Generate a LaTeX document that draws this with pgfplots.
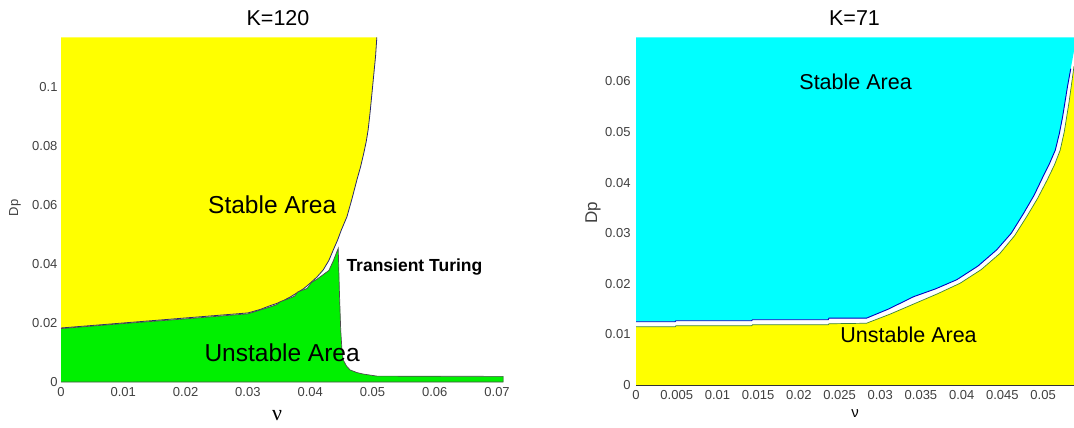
\documentclass[border=0pt]{standalone}
\usepackage{pgfplots}
\pgfplotsset{compat=1.18}
\usepackage{pgfplotstable}
\usepackage{fontspec}
\setmainfont{Liberation Sans}
\newfontfamily\seriffont{Liberation Serif}

\definecolor{stableY}{RGB}{255,255,0}
\definecolor{unstG}{RGB}{0,240,0}
\definecolor{stableC}{RGB}{0,255,255}
\definecolor{edgeNavy}{RGB}{40,40,110}
\definecolor{edgeBlue}{RGB}{0,0,190}
\definecolor{edgeGreen}{RGB}{60,130,60}

% K=120: stable region (first row is the top-left corner)
\pgfplotstableread{
v D
0 0.1168
0 0.0183
0.010 0.0200
0.020 0.0217
0.030 0.0234
0.0320 0.0246
0.0335 0.0258
0.0346 0.0266
0.0357 0.0276
0.0368 0.0288
0.0378 0.0301
0.0390 0.0317
0.0400 0.0335
0.0411 0.0356
0.0421 0.0380
0.0430 0.0412
0.0437 0.0447
0.0444 0.0481
0.0450 0.0515
0.0459 0.0560
0.0467 0.0620
0.0475 0.0685
0.0481 0.0730
0.0486 0.0775
0.0490 0.0815
0.0493 0.0854
0.0496 0.0910
0.0499 0.0975
0.0502 0.1040
0.0505 0.1105
0.0507 0.1168
}\leftstable

% K=120: unstable region (open outline, left edge omitted)
\pgfplotstableread{
v D
0 0.0181
0.010 0.0198
0.020 0.0214
0.030 0.0231
0.0335 0.0254
0.0346 0.0262
0.0352 0.0272
0.0365 0.0282
0.0375 0.0291
0.0380 0.0305
0.0395 0.0317
0.0402 0.0337
0.0412 0.0350
0.0421 0.0364
0.0430 0.0378
0.0437 0.0410
0.0445 0.0453
0.0447 0.0300
0.0449 0.0176
0.0451 0.0110
0.0453 0.0075
0.0458 0.0055
0.0464 0.0041
0.0475 0.0032
0.0485 0.0027
0.0507 0.0020
0.0710 0.0019
0.0710 0
0 0
}\leftunstable

% K=71: stable region (first row is the top-left corner, last the top-right)
\pgfplotstableread{
v D
0 0.0687
0 0.0125
0.0048 0.0125
0.0049 0.0127
0.0142 0.0127
0.0143 0.0129
0.0236 0.0129
0.0237 0.0132
0.0283 0.0132
0.0310 0.0150
0.0341 0.01745
0.0368 0.0190
0.0394 0.0208
0.0420 0.0235
0.0443 0.0267
0.0461 0.0300
0.0476 0.0339
0.0489 0.0375
0.0500 0.0412
0.0508 0.0438
0.0515 0.0464
0.0520 0.0497
0.0524 0.0530
0.0527 0.0560
0.0530 0.0590
0.0534 0.0625
0.0538 0.0660
0.0538 0.0687
}\rightstable

% K=71: unstable region
\pgfplotstableread{
v D
0 0
0 0.0115
0.0048 0.0115
0.0049 0.0117
0.0142 0.0117
0.0143 0.0119
0.0236 0.0119
0.0237 0.0121
0.0283 0.0122
0.0312 0.0140
0.0341 0.0160
0.0370 0.0180
0.0398 0.0201
0.0424 0.0228
0.0447 0.0260
0.0465 0.0295
0.0480 0.0333
0.0493 0.0368
0.0505 0.0405
0.0514 0.0435
0.0521 0.0464
0.0526 0.0500
0.0529 0.0530
0.0532 0.0560
0.0535 0.0595
0.0538 0.0630
0.0538 0
}\rightunstable

\begin{document}
\begin{tikzpicture}[x=1bp,y=1bp]
\useasboundingbox (0,0) rectangle (1074,427);

\pgfplotsset{
  regionaxis/.style={
    scale only axis,
    anchor=south west,
    axis line style={draw=none},
    major tick length=0pt,
    scaled ticks=false,
    tick label style={font=\fontsize{13bp}{13bp}\selectfont, text=black!75},
    xticklabel style={yshift=-2bp},
  }
}

% ---------- K=120 ----------
\begin{axis}[regionaxis,
  at={(61bp,45bp)}, width=442.3bp, height=344.7bp,
  xmin=0, xmax=0.071, ymin=0, ymax=0.1168,
  xtick={0,0.01,0.02,0.03,0.04,0.05,0.06,0.07},
  xticklabels={0,0.01,0.02,0.03,0.04,0.05,0.06,0.07},
  ytick={0,0.02,0.04,0.06,0.08,0.1},
  yticklabels={0,0.02,0.04,0.06,0.08,0.1},
]
\addplot[fill=stableY, draw=none] table {\leftstable} -- cycle;
\addplot[edgeNavy, line width=0.8bp, skip coords between index={0}{1}] table {\leftstable};
\addplot[fill=unstG, draw=black!70, line width=0.7bp] table {\leftunstable};
\node[font=\fontsize{24.5bp}{28bp}\selectfont, anchor=base] at (axis cs:0.0339,0.0570) {Stable Area};
\node[font=\fontsize{17.5bp}{20bp}\selectfont\bfseries, anchor=base west, inner sep=0pt] at (axis cs:0.0458,0.0375) {Transient Turing};
\node[font=\fontsize{24.5bp}{28bp}\selectfont, anchor=base] at (axis cs:0.0355,0.0069) {Unstable Area};
\end{axis}

% ---------- K=71 ----------
\begin{axis}[regionaxis,
  at={(636bp,42bp)}, width=438bp, height=347.7bp,
  xmin=0, xmax=0.0538, ymin=0, ymax=0.0687,
  xtick={0,0.005,0.01,0.015,0.02,0.025,0.03,0.035,0.04,0.045,0.05},
  xticklabels={0,0.005,0.01,0.015,0.02,0.025,0.03,0.035,0.04,0.045,0.05},
  ytick={0,0.01,0.02,0.03,0.04,0.05,0.06},
  yticklabels={0,0.01,0.02,0.03,0.04,0.05,0.06},
  yticklabel style={xshift=-2bp},
]
\addplot[fill=stableC, draw=none] table {\rightstable} -- cycle;
\addplot[fill=stableY, draw=none] table {\rightunstable} -- cycle;
\addplot[edgeBlue, line width=0.9bp, skip coords between index={0}{1}, skip coords between index={26}{28}] table {\rightstable};
\addplot[edgeGreen, line width=0.7bp, skip coords between index={0}{1}, skip coords between index={26}{28}] table {\rightunstable};
\draw[black!80, line width=0.9bp] (axis cs:0,0) -- (axis cs:0.0538,0);
\node[font=\fontsize{21.5bp}{25bp}\selectfont, anchor=base] at (axis cs:0.02697,0.05842) {Stable Area};
\node[font=\fontsize{21.5bp}{25bp}\selectfont, anchor=base] at (axis cs:0.03348,0.00836) {Unstable Area};
\end{axis}

% titles and axis labels
\node[font=\fontsize{21.5bp}{25bp}\selectfont, anchor=base] at (278,401) {K=120};
\node[font=\fontsize{21.5bp}{25bp}\selectfont, anchor=base] at (854.5,401) {K=71};
\node[font=\fontsize{22bp}{24bp}\seriffont] at (277,11) {ν};
\node[font=\fontsize{15bp}{17bp}\selectfont] at (855,13) {ν};
\node[font=\fontsize{13bp}{15bp}\selectfont, rotate=90, text=black!75] at (15,219) {Dp};
\node[font=\fontsize{17bp}{19bp}\selectfont, rotate=90, text=black!75] at (593,214) {Dp};
\end{tikzpicture}
\end{document}
